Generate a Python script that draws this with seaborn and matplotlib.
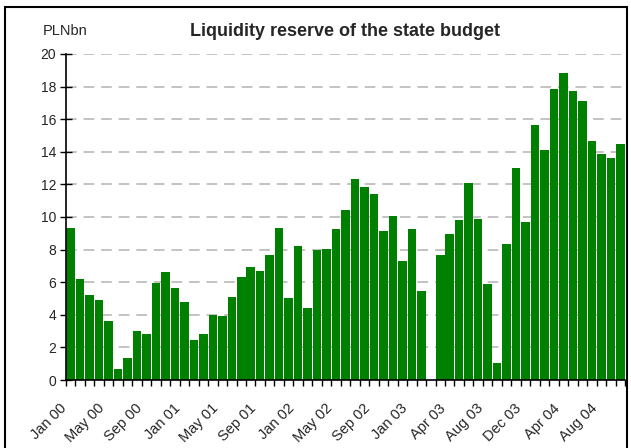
import numpy as np
import pandas as pd
import matplotlib
matplotlib.use("Agg")
import matplotlib.pyplot as plt
import matplotlib.transforms as mtransforms
import seaborn as sns
from matplotlib.patches import Rectangle

# ---- data ----
month_names = ["Jan", "Feb", "Mar", "Apr", "May", "Jun", "Jul", "Aug", "Sep", "Oct", "Nov", "Dec"]
months_part1 = [f"{m} {y:02d}" for y in (0, 1, 2) for m in month_names] + ["Jan 03", "Feb 03"]
gap_label = [""]
months_part2 = ["Mar 03"] + [f"{m} 03" for m in month_names[3:]] + [f"{m} 04" for m in month_names[:10]]
categories = months_part1 + gap_label + months_part2

values_part1 = [9.31, 6.18, 5.2, 4.9, 3.61, 0.67, 1.35, 3.0, 2.82, 5.94, 6.61, 5.63,
                4.78, 2.45, 2.82, 3.98, 3.92, 5.08, 6.31, 6.92, 6.67, 7.65, 9.31, 5.02,
                8.2, 4.41, 7.96, 8.02, 9.24, 10.41, 12.31, 11.82, 11.39, 9.12, 10.04, 7.29,
                9.24, 5.45]
values_gap = [np.nan]
values_part2 = [7.65, 8.96, 9.80, 12.06, 9.86, 5.88, 1.04, 8.33, 12.98, 9.67,
                15.67, 14.08, 17.88, 18.86, 17.76, 17.14, 14.69, 13.84, 13.59, 14.45]
values = values_part1 + values_gap + values_part2

y_ticks = list(range(0, 21, 2))
title = "Liquidity reserve of the state budget"
unit_label = "PLNbn"

# ---- plot ----
sns.set_theme(style="white")
plt.rcParams["font.family"] = ["Liberation Sans", "DejaVu Sans"]

W, H = 631, 448
fig = plt.figure(figsize=(W / 100, H / 100), dpi=100)
ax = fig.add_axes([66 / W, (H - 380) / H, (625 - 66) / W, (380 - 54) / H])

df = pd.DataFrame({"month": categories, "value": values})
sns.barplot(data=df, x="month", y="value", order=categories, color="#008000",
            saturation=1, width=0.9, edgecolor="none", linewidth=0, ax=ax, zorder=2)

ax.set_xlim(-0.5, len(categories) - 0.5)
ax.set_ylim(0, 20)
ax.set_xlabel("")
ax.set_ylabel("")

for y in y_ticks[1:]:
    ax.axhline(y, color="#b3b3b3", lw=1.1, ls=(0, (7, 4.5)), zorder=0)

ax.set_yticks(y_ticks)
ax.set_yticklabels([str(t) for t in y_ticks])
ax.tick_params(axis="y", direction="inout", length=8, width=1, color="black",
               labelsize=10, pad=3, left=True)

label_idx = list(range(0, len(categories), 4))
ax.set_xticks(label_idx)
ax.set_xticklabels([categories[i] for i in label_idx], rotation=45, ha="right",
                   rotation_mode="anchor", fontsize=10.5)
ax.tick_params(axis="x", which="major", length=0, pad=8)
ax.set_xticks(np.arange(-0.5, len(categories), 1), minor=True)
ax.tick_params(axis="x", which="minor", direction="out", length=4, width=1, color="black", bottom=True)

offset = mtransforms.ScaledTranslation(-11 / 100, -10 / 100, fig.dpi_scale_trans)
for lab in ax.get_xticklabels():
    lab.set_transform(lab.get_transform() + offset)

for s in ["top", "right"]:
    ax.spines[s].set_visible(False)
for s in ["left", "bottom"]:
    ax.spines[s].set_color("black")
    ax.spines[s].set_linewidth(1.2)

fig.text(65 / W, (H - 31) / H, unit_label, ha="center", va="center", fontsize=10.5,
         family=["Liberation Sans Narrow", "Liberation Sans", "DejaVu Sans"])
fig.text(345.5 / W, (H - 32) / H, title, ha="center", va="center", fontsize=13, fontweight="bold")

fig.patches.append(Rectangle((5 / W, -0.1), (627 - 5) / W, (H - 7.5) / H + 0.1,
                             transform=fig.transFigure, fill=False, edgecolor="black",
                             lw=1.5, zorder=10))

fig.savefig("out.png", dpi=100)
